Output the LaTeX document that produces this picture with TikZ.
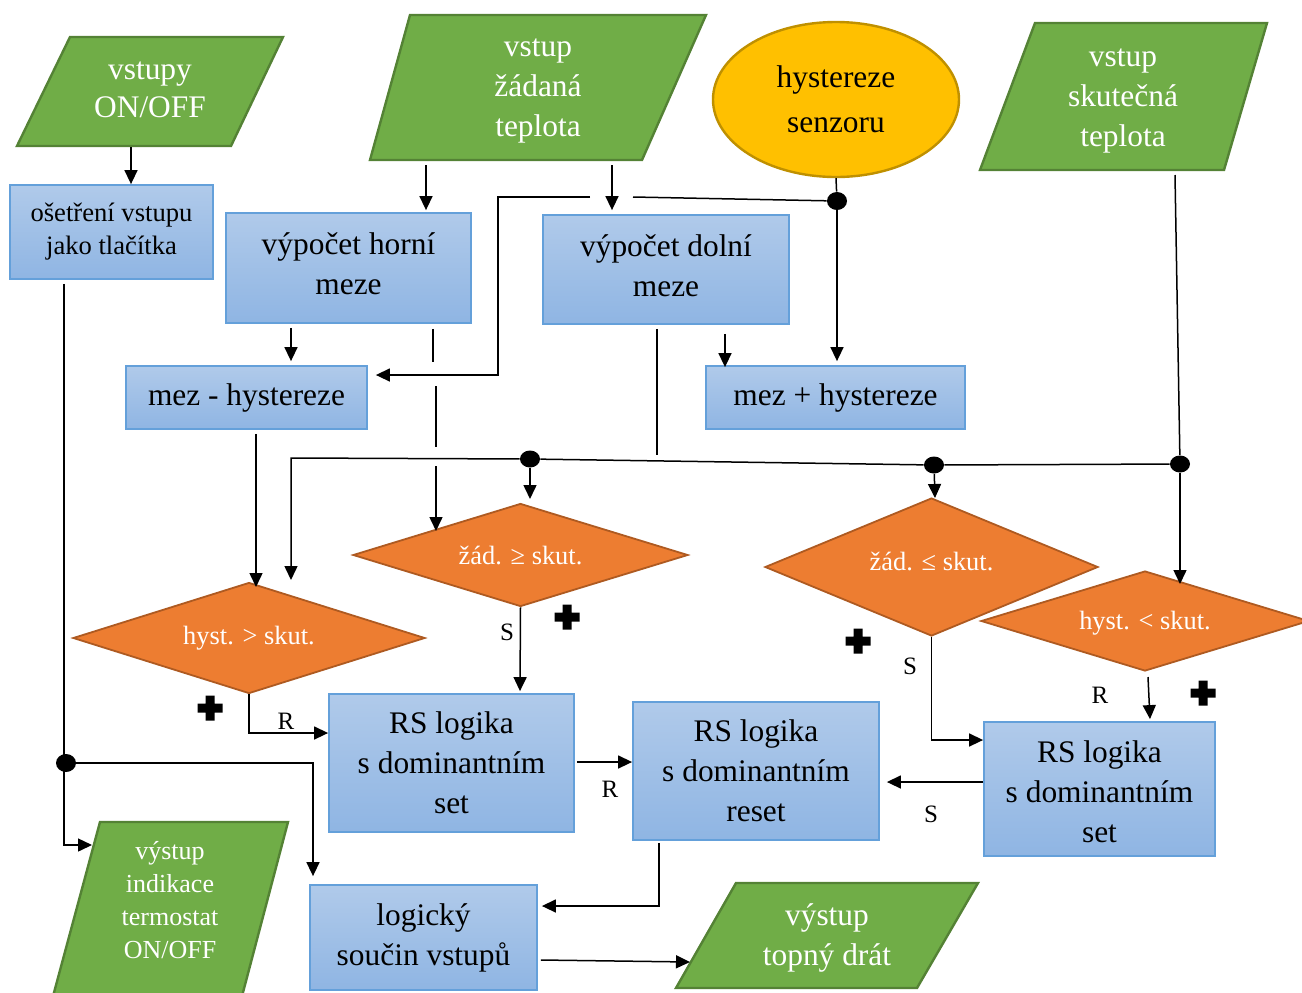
\documentclass[tikz,border=0pt]{standalone}
\usepackage{fontspec}
\setmainfont{Liberation Serif}
\usetikzlibrary{shapes.geometric,arrows.meta}
\definecolor{grn}{RGB}{112,173,71}
\definecolor{grnb}{RGB}{84,130,53}
\definecolor{boxt}{RGB}{176,202,234}
\definecolor{boxb}{RGB}{143,181,227}
\definecolor{boxd}{RGB}{100,160,218}
\definecolor{org}{RGB}{237,125,49}
\definecolor{orgb}{RGB}{174,90,33}
\definecolor{yel}{RGB}{255,192,0}
\definecolor{yelb}{RGB}{191,144,0}
\begin{document}
\begin{tikzpicture}[x=0.5pt,y=-0.5pt,
  bx/.style={rectangle, draw=boxd, line width=0.9pt, top color=boxt, bottom color=boxb, align=center, font=\fontsize{15.7}{20}\selectfont, inner sep=0pt},
  btext/.style={align=center, font=\fontsize{15.7}{20}\selectfont, inner sep=0pt},
  dia/.style={diamond, draw=orgb, fill=org, line width=0.9pt, inner sep=0pt, text=white, font=\fontsize{13.2}{16}\selectfont},
  par/.style={fill=grn, draw=grnb, line width=1.2pt},
  ptext/.style={text=white, align=center, font=\fontsize{15.7}{20}\selectfont},
  con/.style={line width=0.75pt, -{Triangle[length=7pt,width=6.5pt]}},
  ln/.style={line width=0.75pt},
  lbl/.style={font=\fontsize{12.5}{14}\selectfont, inner sep=0pt},
  dot/.style={ellipse, fill=black, minimum width=10pt, minimum height=8.5pt, inner sep=0pt},
  plusmk/.pic={\fill (-4.5,-12.5) -- (4.5,-12.5) -- (4.5,-4.5) -- (12.5,-4.5) -- (12.5,4.5) -- (4.5,4.5) -- (4.5,12.5) -- (-4.5,12.5) -- (-4.5,4.5) -- (-12.5,4.5) -- (-12.5,-4.5) -- (-4.5,-4.5) -- cycle;},
]
\useasboundingbox (0,0) rectangle (1302,992);
\clip (0,0) rectangle (1302,992);

% input / output parallelograms and ellipse
\filldraw[par] (70,37) -- (283,37) -- (231,146) -- (17,146) -- cycle;
\node[ptext, font=\fontsize{15.7}{19}\selectfont] (onoff) at (150,90) {vstupy\\ON/OFF};
\filldraw[par] (410,15) -- (706,15) -- (642,160) -- (370,160) -- cycle;
\node[ptext] (zad) at (538,91) {vstup\\žádaná\\teplota};
\node[ellipse, draw=yelb, fill=yel, line width=1.2pt, minimum width=123pt, minimum height=77.5pt, inner sep=0pt, align=center, font=\fontsize{15.7}{22.5}\selectfont] (hyst) at (836,99.5) {hystereze\\senzoru};
\filldraw[par] (1035,23) -- (1267,23) -- (1224,170) -- (980,170) -- cycle;
\node[ptext] (skut) at (1123,101) {vstup\\skutečná\\teplota};
\filldraw[par] (736,883) -- (978,883) -- (917,988) -- (676,988) -- cycle;
\node[ptext] (topny) at (827,938) {výstup\\topný drát};
\filldraw[par] (100,822) -- (288,822) -- (241,1000) -- (52,1000) -- cycle;
\node[ptext, font=\fontsize{13}{16.5}\selectfont] (ind) at (170,900) {výstup\\indikace\\termostat\\ON/OFF};

% boxes
\node[bx, minimum width=101.5pt, minimum height=47pt, font=\fontsize{13.3}{16.5}\selectfont] (oset) at (111.5,232) {ošetření vstupu\\jako tlačítka};
\node[bx, minimum width=122.5pt, minimum height=55pt] (horni) at (348.5,268) {};
\node[btext] (hornit) at (348.5,264) {výpočet horní\\meze};
\node[bx, minimum width=123pt, minimum height=54.5pt] (dolni) at (666,269.5) {};
\node[btext] (dolnit) at (666,265.5) {výpočet dolní\\meze};
\node[bx, minimum width=120.5pt, minimum height=31.5pt] (mezm) at (246.5,397.5) {mez - hystereze};
\node[bx, minimum width=129.5pt, minimum height=31.5pt] (mezp) at (835.5,397.5) {mez + hystereze};
\node[bx, minimum width=122.5pt, minimum height=69pt] (rs1) at (451.5,763) {RS logika\\s dominantním\\set};
\node[bx, minimum width=123pt, minimum height=69pt] (rsr) at (756,771) {RS logika\\s dominantním\\reset};
\node[bx, minimum width=115.5pt, minimum height=67pt] (rs2) at (1099.5,789) {};
\node[btext] (rs2t) at (1099.5,792) {RS logika\\s dominantním\\set};
\node[bx, minimum width=113.5pt, minimum height=52.5pt] (logic) at (423.5,937.5) {logický\\součin vstupů};

% decisions
\node[dia, aspect=3.25, minimum width=167.5pt, minimum height=51.5pt] (d1) at (520.5,555) {žád. ≥ skut.};
\node[dia, aspect=3.17, minimum width=176pt, minimum height=55.5pt] (d2) at (249,638) {hyst. > skut.};
\node[dia, aspect=2.41, minimum width=166.5pt, minimum height=69pt] (d3) at (931.5,567) {};
\node[text=white, font=\fontsize{13.2}{16}\selectfont, inner sep=0pt] (d3t) at (931.5,561) {žád. ≤ skut.};
\node[dia, aspect=3.28, minimum width=164pt, minimum height=50pt] (d4) at (1145,621) {};
\node[text=white, font=\fontsize{13.2}{16}\selectfont, inner sep=0pt] (d4t) at (1145,623) {hyst. < skut.};

% junction dots
\node[dot, minimum height=9pt] (j1) at (66,763) {};
\node[dot, minimum height=9pt] (j2) at (837,201) {};
\node[dot] (j3) at (530,459) {};
\node[dot] (j4) at (934,465) {};
\node[dot] (j5) at (1180,464) {};

% free ends
\coordinate (onoffb) at (131,147);
\coordinate (zadb1) at (426,165);
\coordinate (zadb2) at (612,165);
\coordinate (skutb) at (1175,175);
\coordinate (busl) at (291,458);

% connectors
\draw[con] (onoffb) -- (onoffb |- oset.north);
\draw[con] ([yshift=-2pt]oset.south -| 64,0) -- (64,845) -- (92,845);
\draw[ln] (64,845) -- (64,763) -- (j1);
\draw[con] (j1) -- (313,763) -- ([yshift=4pt]logic.north -| 313,0);
\draw[con] (zadb1) -- ([yshift=1pt]horni.north -| zadb1);
\draw[con] (zadb2) -- ([yshift=2pt]dolni.north -| zadb2);
\draw[ln] (hyst.south) -- (j2);
\draw[con] (j2) -- ([yshift=2pt]mezp.north -| j2);
\draw[ln] (j2) -- (633,197);
\draw[con] (590,197) -- (498,197) -- (498,375) -- ([xshift=4pt]mezm.east |- 0,375);
\draw[con] ([yshift=-2pt]horni.south -| 291,0) -- ([yshift=2pt]mezm.north -| 291,0);
\draw[ln] ([yshift=-2.5pt]horni.south -| 433,0) -- (433,362);
\draw[ln] (436,386) -- (436,447);
\draw[con] (436,466) -- (436,531);
\draw[ln] ([yshift=-2pt]dolni.south -| 657,0) -- (657,455);
\draw[con] ([yshift=-4.5pt]dolni.south -| 725,0) -- ([yshift=-1pt]mezp.north -| 725,0);
\draw[ln] (skutb) -- (j5);
\draw[con] (j5) -- (1180,584);
\draw[con] (j5) -- (j4) -- (j3) -- (busl) -- (291,580);
\draw[con] (j3) -- (530,499);
\draw[con] (j4) -- (935,498);
\draw[con] ([yshift=-2pt]mezm.south -| 256,0) -- (256,587);
\draw[con] (d2.south) -- (d2.south |- 0,733) -- (rs1.west |- 0,733);
\draw[con] (d1.south) -- ([yshift=1pt]rs1.north -| 520,0);
\draw[con] ([xshift=1pt]rs1.east |- 0,762) -- (rsr.west |- 0,762);
\draw[con] (d3.south) -- (d3.south |- 0,740) -- (rs2.west |- 0,740);
\draw[con] (1148,677) -- ([yshift=1pt]rs2.north -| 1150,0);
\draw[con] (rs2.west |- 0,782) -- ([xshift=3.5pt]rsr.east |- 0,782);
\draw[con] ([yshift=-1pt]rsr.south -| 659,0) -- (659,906) -- ([xshift=2pt]logic.east |- 0,906);
\draw[con] ([xshift=1.5pt]logic.east |- 0,960) -- (690,962);

% labels
\node[lbl] (lr1) at (286,721) {R};
\node[lbl] (ls1) at (507,632) {S};
\node[lbl] (lr2) at (610,789) {R};
\node[lbl] (ls2) at (910,666) {S};
\node[lbl] (lr3) at (1100,695) {R};
\node[lbl] (ls3) at (931,814) {S};

% plus marks
\pic at (210,708) {plusmk};
\pic at (567,617) {plusmk};
\pic at (858,641) {plusmk};
\pic at (1203,693) {plusmk};
\end{tikzpicture}
\end{document}
